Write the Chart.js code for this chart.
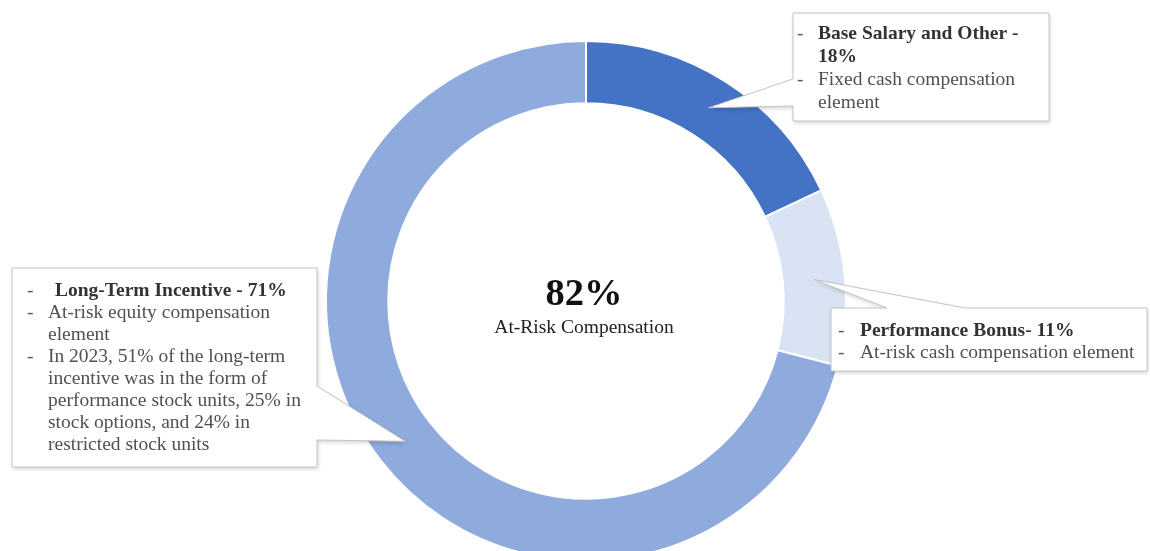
<!DOCTYPE html>
<html>
<head>
<meta charset="utf-8">
<script src="https://cdn.jsdelivr.net/npm/chart.js@4.4.1/dist/chart.umd.min.js"></script>
<style>
    html, body { margin: 0; padding: 0; background: #fff; overflow: hidden; }
    .chart-wrap { position: relative; width: 1150px; height: 602px; }
</style>
</head>
<body>
<div class="chart-wrap"><canvas id="payMixChart"></canvas></div>
<script>
// Pay mix data
const categories = ['Base Salary and Other', 'Performance Bonus', 'Long-Term Incentive'];
const shares = [18, 11, 71];
const sliceColors = ['#4472C4', '#DAE3F3', '#8FAADC'];
const centerValue = '82%';
const centerLabel = 'At-Risk Compensation';

// Callout text, one array per slice: [dash?, bold?, text]
const baseSalaryLines = [
    [true, true, 'Base Salary and Other -'],
    [false, true, '18%'],
    [true, false, 'Fixed cash compensation'],
    [false, false, 'element']
];
const bonusLines = [
    [true, true, 'Performance Bonus- 11%'],
    [true, false, 'At-risk cash compensation element']
];
const longTermLines = [
    [true, true, 'Long-Term Incentive - 71%'],
    [true, false, 'At-risk equity compensation'],
    [false, false, 'element'],
    [true, false, 'In 2023, 51% of the long-term'],
    [false, false, 'incentive was in the form of'],
    [false, false, 'performance stock units, 25% in'],
    [false, false, 'stock options, and 24% in'],
    [false, false, 'restricted stock units']
];

const SERIF = '"Liberation Serif", "Times New Roman", serif';
const BOX_FONT = '19.5px ' + SERIF;

// Box layout for each slice callout
const callouts = [
    { lines: baseSalaryLines, box: [793, 13, 1049, 121], side: 'left', base: [79, 106],
      dashX: 797, textX: 818, boldX: 818, firstY: 39, lineH: 23 },
    { lines: bonusLines, box: [831, 308, 1147, 371], side: 'top', base: [887, 965],
      dashX: 838, textX: 860, boldX: 860, firstY: 336, lineH: 22 },
    { lines: longTermLines, box: [12, 268, 317, 467], side: 'right', base: [386, 440],
      dashX: 27, textX: 48, boldX: 55, firstY: 296, lineH: 22 }
];

const calloutPlugin = {
    id: 'callouts',
    afterDatasetsDraw(chart) {
        const ctx = chart.ctx;
        const arcs = chart.getDatasetMeta(0).data;

        callouts.forEach((c, i) => {
            const tip = arcs[i].tooltipPosition();
            const [x1, y1, x2, y2] = c.box;

            ctx.save();
            ctx.beginPath();
            ctx.moveTo(x1, y1);
            if (c.side === 'top') {
                ctx.lineTo(c.base[0], y1);
                ctx.lineTo(tip.x, tip.y);
                ctx.lineTo(c.base[1], y1);
            }
            ctx.lineTo(x2, y1);
            if (c.side === 'right') {
                ctx.lineTo(x2, c.base[0]);
                ctx.lineTo(tip.x, tip.y);
                ctx.lineTo(x2, c.base[1]);
            }
            ctx.lineTo(x2, y2);
            ctx.lineTo(x1, y2);
            if (c.side === 'left') {
                ctx.lineTo(x1, c.base[1]);
                ctx.lineTo(tip.x, tip.y);
                ctx.lineTo(x1, c.base[0]);
            }
            ctx.closePath();
            ctx.shadowColor = 'rgba(0, 0, 0, 0.18)';
            ctx.shadowBlur = 4;
            ctx.shadowOffsetX = 1;
            ctx.shadowOffsetY = 2;
            ctx.fillStyle = '#ffffff';
            ctx.fill();
            ctx.shadowColor = 'transparent';
            ctx.strokeStyle = '#c4c4c4';
            ctx.lineWidth = 1;
            ctx.stroke();

            ctx.textBaseline = 'alphabetic';
            ctx.textAlign = 'left';
            c.lines.forEach((ln, j) => {
                const y = c.firstY + j * c.lineH;
                const [dash, bold, text] = ln;
                ctx.font = BOX_FONT;
                ctx.fillStyle = '#595959';
                if (dash) ctx.fillText('-', c.dashX, y);
                ctx.font = (bold ? 'bold ' : '') + BOX_FONT;
                ctx.fillStyle = bold ? '#333333' : '#505050';
                ctx.fillText(text, bold && j === 0 ? c.boldX : c.textX, y);
            });
            ctx.restore();
        });
    },
    afterDraw(chart) {
        const ctx = chart.ctx;
        const arc = chart.getDatasetMeta(0).data[0];
        ctx.save();
        ctx.textAlign = 'center';
        ctx.textBaseline = 'alphabetic';
        ctx.fillStyle = '#111';
        ctx.font = 'bold 38.5px ' + SERIF;
        ctx.fillText(centerValue, arc.x - 2, arc.y + 4);
        ctx.fillStyle = '#222';
        ctx.font = '19.5px ' + SERIF;
        ctx.fillText(centerLabel, arc.x - 2, arc.y + 32);
        ctx.restore();
    }
};

new Chart(document.getElementById('payMixChart'), {
    type: 'doughnut',
    data: {
        labels: categories,
        datasets: [{
            data: shares,
            backgroundColor: sliceColors,
            borderColor: '#ffffff',
            borderWidth: 2
        }]
    },
    options: {
        responsive: true,
        maintainAspectRatio: false,
        animation: false,
        cutout: 197,
        radius: 260,
        layout: {
            padding: { top: 41, bottom: 41, left: 22, right: 0 }
        },
        plugins: {
            legend: { display: false },
            tooltip: { enabled: false }
        }
    },
    plugins: [calloutPlugin]
});
</script>
</body>
</html>
